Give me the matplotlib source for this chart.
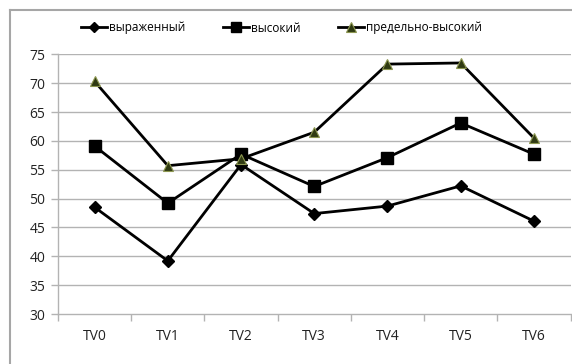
import matplotlib.pyplot as plt
from matplotlib.lines import Line2D

categories = ["TV0", "TV1", "TV2", "TV3", "TV4", "TV5", "TV6"]
vyrazhennyi = [48.5, 39.2, 55.9, 47.4, 48.7, 52.2, 46.1]
vysokii = [59.1, 49.2, 57.7, 52.1, 57.1, 63.1, 57.7]
predelno = [70.3, 55.7, 56.9, 61.5, 73.3, 73.5, 60.5]
yticks = [30, 35, 40, 45, 50, 55, 60, 65, 70, 75]

plt.rcParams["font.family"] = ["Open Sans", "DejaVu Sans"]

fig = plt.figure(figsize=(5.72, 3.64), dpi=100)
fig.patch.set_facecolor("white")
ax = fig.add_axes([58 / 572, 1 - 314 / 364, (570.5 - 58) / 572, (314 - 54.3) / 364])

x = list(range(len(categories)))
grid_c = "#b3b3b3"
for y in yticks[1:]:
    ax.axhline(y, color=grid_c, lw=1.0, zorder=1)

ax.plot(x, vyrazhennyi, color="black", lw=2, marker="D", ms=6,
        mfc="black", mec="black", label="выраженный", zorder=3)
ax.plot(x, vysokii, color="black", lw=2, marker="s", ms=8,
        mfc="black", mec="black", label="высокий", zorder=3)
ax.plot(x, predelno, color="black", lw=2, marker="^", ms=7.5,
        mfc="#2f3a12", mec="#8c9650", mew=0.8, label="предельно-высокий", zorder=3)

ax.set_xlim(-0.5, 6.5)
ax.set_ylim(30, 75)
ax.set_yticks(yticks)
ax.set_yticklabels([str(v) for v in yticks])
ax.set_xticks([i - 0.5 for i in range(len(categories) + 1)], minor=False)
ax.set_xticklabels([])
ax.set_xticks(x, minor=True)
ax.set_xticklabels(categories, minor=True)

for side in ["top", "right"]:
    ax.spines[side].set_visible(False)
for side in ["left", "bottom"]:
    ax.spines[side].set_color(grid_c)
    ax.spines[side].set_linewidth(1.0)

ax.tick_params(axis="y", length=5, width=1, color=grid_c, pad=4,
               labelsize=10, labelcolor="#222222")
ax.tick_params(axis="x", which="major", length=5, width=1, color=grid_c)
ax.tick_params(axis="x", which="minor", length=0, pad=11,
               labelsize=10, labelcolor="#222222")

fig.legend(loc="center", bbox_to_anchor=(0.492, 1 - 28 / 364), ncol=3,
           frameon=False, fontsize=8.5, handlelength=2.2, handletextpad=0.15,
           columnspacing=3.2, markerscale=0.9)

# outer chart border
fig.add_artist(Line2D([9.5 / 572, 9.5 / 572], [0, 1 - 10 / 364],
                      transform=fig.transFigure, color="#a6a6a6", lw=1.5))
fig.add_artist(Line2D([9.5 / 572, 1], [1 - 10 / 364, 1 - 10 / 364],
                      transform=fig.transFigure, color="#a6a6a6", lw=1.5))

fig.savefig("out.png", dpi=100)
